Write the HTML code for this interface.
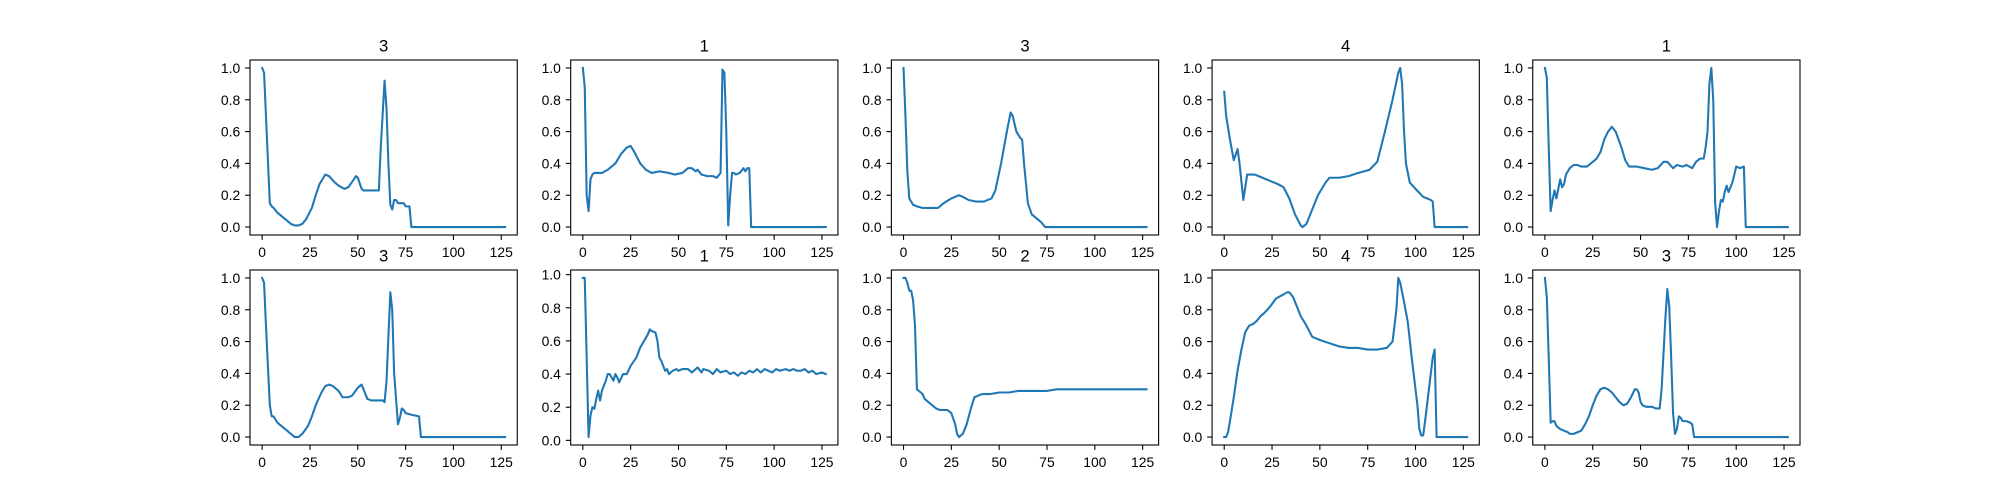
<!DOCTYPE html>
<html><head><meta charset="utf-8"><style>
html,body{margin:0;padding:0;background:#fff;}
svg{display:block;font-family:"Liberation Sans","DejaVu Sans",sans-serif;}
</style></head><body>
<svg id="fig" width="2000" height="500" viewBox="0 0 2000 500" xmlns="http://www.w3.org/2000/svg"></svg>
<script>
const titles = ["3","1","3","4","1","3","1","2","4","3"];
const xTicks = [0,25,50,75,100,125];
const yTicks = [0,0.2,0.4,0.6,0.8,1.0];
const yTickLabels = ["0.0","0.2","0.4","0.6","0.8","1.0"];
const xs1=[0,1,2,4,5,6,8,12,15,17,19,21,23,26,28,30,32,33,35,38,40,43,45,48,49,50,52,53,56,59,61,62,64,65,66,67,68,69,70,71,74,75,77,78,127];
const ys1=[1.0,0.97,0.7,0.15,0.13,0.12,0.09,0.05,0.02,0.01,0.01,0.02,0.05,0.12,0.2,0.27,0.31,0.33,0.32,0.28,0.26,0.24,0.25,0.3,0.32,0.31,0.24,0.23,0.23,0.23,0.23,0.5,0.92,0.75,0.4,0.14,0.11,0.17,0.17,0.15,0.15,0.13,0.13,0.0,0.0];
const xs2=[0,1,2,3,4,5,6,8,10,13,17,20,23,25,27,30,33,36,40,45,48,52,55,57,59,60,62,65,68,70,72,73,74,75,76,77,78,79,80,82,84,85,86,87,88,127];
const ys2=[1.0,0.88,0.2,0.1,0.3,0.33,0.34,0.34,0.34,0.36,0.4,0.46,0.5,0.51,0.47,0.4,0.36,0.34,0.35,0.34,0.33,0.34,0.37,0.37,0.35,0.36,0.33,0.32,0.32,0.31,0.34,0.99,0.97,0.6,0.01,0.2,0.34,0.34,0.33,0.34,0.37,0.35,0.37,0.37,0.0,0.0];
const xs3=[0,1,2,3,5,7,10,15,18,21,25,29,31,34,38,42,46,48,51,54,56,57,59,61,62,63,65,67,70,72,74,127];
const ys3=[1.0,0.7,0.35,0.18,0.14,0.13,0.12,0.12,0.12,0.15,0.18,0.2,0.19,0.17,0.16,0.16,0.18,0.23,0.4,0.6,0.72,0.7,0.6,0.56,0.55,0.4,0.15,0.08,0.05,0.03,0.0,0.0];
const xs4=[0,1,3,5,7,8,10,12,13,16,20,24,28,31,34,37,40,41,43,46,49,53,55,60,65,70,76,80,84,88,91,92,93,94,95,97,100,104,108,109,110,127];
const ys4=[0.85,0.7,0.55,0.42,0.49,0.4,0.17,0.33,0.33,0.33,0.31,0.29,0.27,0.25,0.18,0.08,0.01,0.0,0.02,0.11,0.2,0.28,0.31,0.31,0.32,0.34,0.36,0.41,0.6,0.8,0.97,1.0,0.9,0.6,0.4,0.28,0.24,0.19,0.17,0.16,0.0,0.0];
const xs5=[0,1,2,3,4,5,6,7,8,9,10,11,13,15,17,19,22,24,27,29,31,33,35,37,40,42,44,48,52,56,59,62,64,67,69,72,74,77,79,81,83,84,85,86,87,88,89,90,91,92,93,94,95,96,98,100,102,104,105,127];
const ys5=[1.0,0.94,0.5,0.1,0.17,0.23,0.18,0.24,0.3,0.25,0.27,0.33,0.37,0.39,0.39,0.38,0.38,0.4,0.43,0.47,0.55,0.6,0.63,0.6,0.5,0.42,0.38,0.38,0.37,0.36,0.37,0.41,0.41,0.37,0.39,0.38,0.39,0.37,0.41,0.43,0.43,0.5,0.6,0.9,1.0,0.8,0.15,0.0,0.1,0.17,0.16,0.22,0.26,0.22,0.28,0.38,0.37,0.38,0.0,0.0];
const xs6=[0,1,2,4,5,6,8,12,15,17,19,21,24,26,28,31,33,35,37,40,42,45,47,50,52,53,55,57,60,63,64,65,67,68,69,71,72,73,74,75,78,82,83,127];
const ys6=[1.0,0.97,0.7,0.2,0.13,0.13,0.09,0.05,0.02,0.0,0.0,0.02,0.07,0.13,0.2,0.28,0.32,0.33,0.32,0.29,0.25,0.25,0.26,0.31,0.33,0.3,0.24,0.23,0.23,0.23,0.22,0.35,0.91,0.8,0.4,0.08,0.12,0.18,0.17,0.15,0.14,0.13,0.0,0.0];
const xs7=[0,1,2,3,4,5,6,7,8,9,10,12,13,14,15,16,17,18,19,21,23,25,28,30,32,34,35,36,38,39,40,41,43,44,45,47,49,50,52,55,57,60,62,63,66,68,70,72,75,77,79,81,83,85,87,89,91,93,95,97,99,101,103,106,108,110,112,114,116,118,120,122,125,127];
const ys7=[0.98,0.98,0.5,0.02,0.15,0.2,0.19,0.25,0.3,0.24,0.3,0.36,0.4,0.4,0.38,0.36,0.4,0.38,0.35,0.4,0.4,0.45,0.5,0.56,0.6,0.64,0.67,0.66,0.65,0.6,0.5,0.48,0.42,0.43,0.4,0.42,0.43,0.42,0.43,0.43,0.41,0.44,0.41,0.43,0.42,0.4,0.43,0.41,0.42,0.4,0.41,0.39,0.41,0.4,0.42,0.41,0.43,0.41,0.43,0.42,0.41,0.43,0.42,0.43,0.42,0.43,0.42,0.42,0.43,0.41,0.42,0.4,0.41,0.4];
const xs8=[0,1,2,3,4,5,6,7,9,10,11,13,15,17,19,21,23,25,27,28,29,31,33,35,37,39,41,45,50,55,60,65,70,75,80,85,90,95,100,105,110,115,120,127];
const ys8=[1.0,1.0,0.97,0.92,0.92,0.86,0.7,0.3,0.28,0.27,0.24,0.22,0.2,0.18,0.17,0.17,0.17,0.15,0.08,0.02,0.0,0.02,0.08,0.17,0.25,0.26,0.27,0.27,0.28,0.28,0.29,0.29,0.29,0.29,0.3,0.3,0.3,0.3,0.3,0.3,0.3,0.3,0.3,0.3];
const xs9=[0,1,2,3,5,7,9,11,13,15,17,19,21,24,27,30,33,34,36,38,40,43,46,50,55,60,65,70,75,80,85,88,90,91,92,94,96,98,101,102,103,104,105,107,109,110,111,127];
const ys9=[0.0,0.0,0.03,0.1,0.25,0.42,0.55,0.66,0.7,0.71,0.73,0.76,0.78,0.82,0.87,0.89,0.91,0.91,0.88,0.82,0.76,0.7,0.63,0.61,0.59,0.57,0.56,0.56,0.55,0.55,0.56,0.6,0.8,1.0,0.97,0.85,0.72,0.5,0.2,0.05,0.01,0.01,0.1,0.3,0.5,0.55,0.0,0.0];
const xs10=[0,1,2,3,4,5,6,8,10,12,13,15,17,19,21,23,25,27,29,31,33,35,37,39,41,43,45,47,48,49,50,51,53,56,58,60,61,63,64,65,66,67,68,69,70,71,72,74,76,77,78,127];
const ys10=[1.0,0.88,0.5,0.09,0.1,0.1,0.07,0.05,0.04,0.03,0.02,0.02,0.03,0.04,0.08,0.13,0.2,0.26,0.3,0.31,0.3,0.28,0.25,0.22,0.2,0.21,0.25,0.3,0.3,0.28,0.22,0.2,0.19,0.19,0.18,0.18,0.3,0.75,0.93,0.82,0.5,0.15,0.02,0.05,0.13,0.12,0.1,0.1,0.09,0.08,0.0,0.0];
const seriesX=[xs1,xs2,xs3,xs4,xs5,xs6,xs7,xs8,xs9,xs10];
const seriesY=[ys1,ys2,ys3,ys4,ys5,ys6,ys7,ys8,ys9,ys10];

const NS="http://www.w3.org/2000/svg";
const svg=document.getElementById('fig');
function mk(tag,attrs,parent){const e=document.createElementNS(NS,tag);for(const k in attrs)e.setAttribute(k,attrs[k]);parent.appendChild(e);return e;}
const L=250,T=60,W=1550/5.8,H=385/2.2,GX=W*0.2,GY=H*0.2;
for(let i=0;i<10;i++){
  const col=i%5,row=Math.floor(i/5);
  const ax0=L+col*(W+GX),ay0=T+row*(H+GY);
  const X=seriesX[i],Y=seriesY[i];
  const xmin=Math.min(...X),xmax=Math.max(...X),ymin=Math.min(...Y),ymax=Math.max(...Y);
  const xl0=xmin-0.05*(xmax-xmin),xl1=xmax+0.05*(xmax-xmin);
  const yl0=ymin-0.05*(ymax-ymin),yl1=ymax+0.05*(ymax-ymin);
  const sx=v=>ax0+(v-xl0)/(xl1-xl0)*W;
  const sy=v=>ay0+H-(v-yl0)/(yl1-yl0)*H;
  const g=mk('g',{},svg);
  
  
  const t=mk('text',{x:ax0+W/2,y:ay0-8.3,'text-anchor':'middle','font-size':'16.7px',fill:'#000'},g);
  t.textContent=titles[i];
  
  
  xTicks.forEach(v=>{
    const x=sx(v);
    const tk=mk('line',{x1:x,x2:x,y1:ay0+H,y2:ay0+H+4.9,stroke:'#000','stroke-width':1.1},g);
    
    
    const lb=mk('text',{x:x,y:ay0+H+9.8+12,'text-anchor':'middle','font-size':'13.9px',fill:'#000'},g);
    lb.textContent=String(v);
    
    
  });
  yTicks.forEach((v,j)=>{
    const y=sy(v);
    const tk=mk('line',{x1:ax0-4.9,x2:ax0,y1:y,y2:y,stroke:'#000','stroke-width':1.1},g);
    
    
    const lb=mk('text',{x:ax0-9.8,y:y+5,'text-anchor':'end','font-size':'13.9px',fill:'#000'},g);
    lb.textContent=yTickLabels[j];
    
    
  });
  const pts=X.map((v,k)=>sx(v).toFixed(2)+','+sy(Y[k]).toFixed(2)).join(' ');
  const pl=mk('polyline',{points:pts,fill:'none',stroke:'#1f77b4','stroke-width':2.08,'stroke-linejoin':'round','stroke-linecap':'square'},g);
  
  
  const fr=mk('rect',{x:ax0,y:ay0,width:W,height:H,fill:'none',stroke:'#000','stroke-width':1.1},g);
  
  
}
</script>
</body></html>
